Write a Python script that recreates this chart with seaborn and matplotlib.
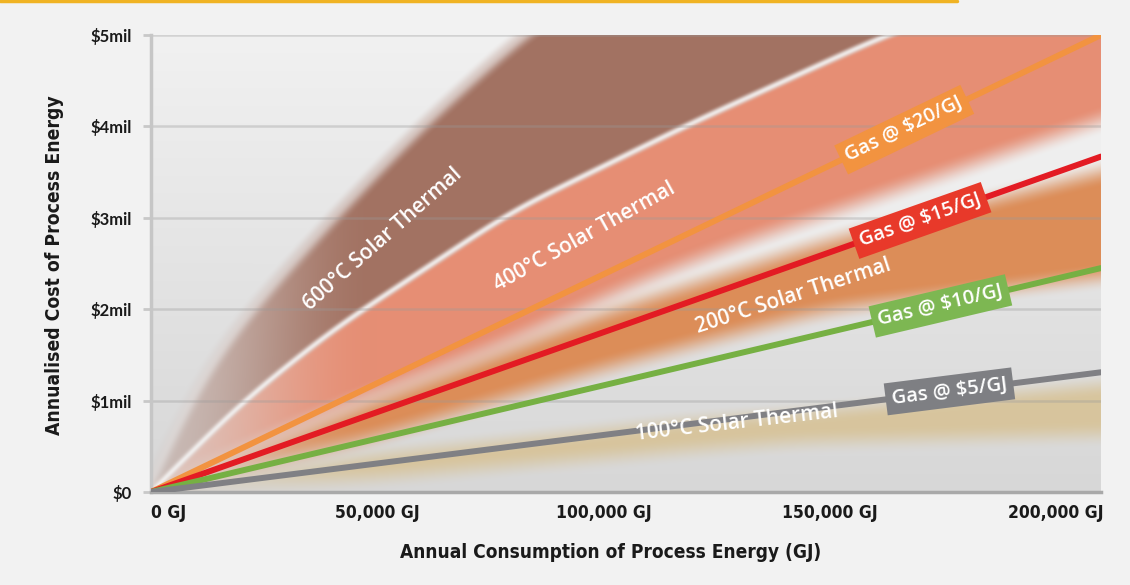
import os
import numpy as np
import pandas as pd
import matplotlib
matplotlib.use("Agg")
import matplotlib.pyplot as plt
import seaborn as sns
from matplotlib import font_manager as fm
from matplotlib.colors import to_rgb
from matplotlib.lines import Line2D

# ---- data -------------------------------------------------------------
x_max_gj = 210000
y_max_mil = 5

x_ticks = [0, 50000, 100000, 150000, 200000]
x_tick_labels = ["0 GJ", "50,000 GJ", "100,000 GJ", "150,000 GJ", "200,000 GJ"]
y_ticks = [0, 1, 2, 3, 4, 5]
y_tick_labels = ["$0", "$1mil", "$2mil", "$3mil", "$4mil", "$5mil"]

# Gas cost lines ($mil) at the two ends of the consumption range
gas_names = ["Gas @ $20/GJ", "Gas @ $15/GJ", "Gas @ $10/GJ", "Gas @ $5/GJ"]
gas_consumption = [0, 210000]
gas_cost_20 = [0.0, 5.0]
gas_cost_15 = [0.0, 3.67]
gas_cost_10 = [0.0, 2.45]
gas_cost_5 = [0.0, 1.31]

# Solar thermal cost bands: lower and upper edge ($mil) vs consumption (GJ)
st100_x = [0, 50000, 121000, 143000, 210000]
st100_low = [0.0, 0.15, 0.46, 0.54, 0.62]
st100_high = [0.0, 0.40, 0.79, 0.86, 1.17]

st200_x = [0, 50000, 100000, 150000, 210000]
st200_low = [0.0, 0.60, 1.35, 2.00, 2.35]
st200_high = [0.0, 1.00, 1.95, 2.75, 3.50]

st400_x_low = [0, 40000, 77000, 108000, 130000, 158000, 210000]
st400_low = [0.0, 0.90, 1.60, 2.30, 2.72, 3.19, 4.07]
st400_x_high = [0, 20000, 40000, 80000, 120000, 160000, 210000]
st400_high = [0.0, 0.98, 1.77, 3.08, 4.05, 4.95, 5.90]

st600_x_low = st400_x_high
st600_low = st400_high
st600_x_high = [0, 10000, 20000, 40000, 60000, 82000, 120000, 210000]
st600_high = [0.10, 1.20, 1.88, 2.99, 4.02, 5.00, 6.30, 8.50]

band_names = ["100°C Solar Thermal", "200°C Solar Thermal",
              "400°C Solar Thermal", "600°C Solar Thermal"]

# ---- style ------------------------------------------------------------
gas_colors = ["#F29340", "#E31B23", "#76B043", "#808084"]
gas_box_colors = ["#F29340", "#E8392A", "#7DB752", "#7E7F83"]
gas_label_x = [166500, 170000, 174500, 176500]

band_colors = ["#D7C193", "#DC8D58", "#E68E74", "#A27262"]
band_label_pos = [(129500, 0.76), (141900, 2.14), (95900, 2.79), (51300, 2.76)]
band_label_rot = [6.5, 18, 29, 41.5]

sns.set_theme(style="white")
plt.rcParams["font.family"] = ["Lato", "DejaVu Sans"]
label_font = ["Open Sans", "Lato", "DejaVu Sans"]


def condensed_bold_file():
    prefs = ["LiberationSansNarrow-Bold.", "NotoSans-SemiCondensedBold.",
             "NotoSans-CondensedBold.", "DejaVuSansCondensed-Bold.",
             "RobotoCondensed-Bold."]
    files = [f.fname for f in fm.fontManager.ttflist]
    for p in prefs:
        for f in files:
            if os.path.basename(f).startswith(p):
                return f
    return None


_cond = condensed_bold_file()


def axis_font(size):
    if _cond:
        return fm.FontProperties(fname=_cond, size=size)
    return fm.FontProperties(family="Liberation Sans", weight="bold", size=size)


W_PX, H_PX = 1130, 585
fig = plt.figure(figsize=(W_PX / 100, H_PX / 100), dpi=100, facecolor="#F2F2F2")
renderer = fig.canvas.get_renderer()


def fit_size(text, target_px, base=15.0):
    t = fig.text(0, 0, text, fontproperties=axis_font(base))
    w = t.get_window_extent(renderer).width
    t.remove()
    return base * target_px / w


ax_l, ax_r, ax_t, ax_b = 151, 1101, 35, 492
ax = fig.add_axes([ax_l / W_PX, 1 - ax_b / H_PX, (ax_r - ax_l) / W_PX, (ax_b - ax_t) / H_PX])
ax.set_xlim(0, x_max_gj)
ax.set_ylim(0, y_max_mil)

# ---- soft solar bands rendered as a raster -----------------------------
nx, ny = ax_r - ax_l, ax_b - ax_t
xs = np.linspace(0, x_max_gj, nx)
ys = np.linspace(0, y_max_mil, ny)
Y = ys[:, None]
px_per_gj = nx / x_max_gj
px_per_mil = ny / y_max_mil


def soften(e, sigma=28):
    r = int(3 * sigma)
    left = 2 * e[0] - e[1:r + 1][::-1]
    right = 2 * e[-1] - e[-r - 1:-1][::-1]
    ext = np.concatenate([left, e, right])
    k = np.exp(-0.5 * (np.arange(-r, r + 1) / sigma) ** 2)
    return np.convolve(ext, k / k.sum(), mode="valid")


def edge(xp, yp):
    e = soften(np.interp(xs, xp, yp))
    slope = np.gradient(e, xs) * px_per_mil / px_per_gj
    return e, np.sqrt(1 + slope ** 2)


def smooth(t):
    t = np.clip(t, 0, 1)
    return t * t * (3 - 2 * t)


# bands fade in away from the origin
ramp = (0.3 + 0.7 * smooth(xs / 50000))[None, :]


def band_alpha(lo, hi, soft_lo, soft_hi):
    lo_e, lo_k = edge(*lo)
    hi_e, hi_k = edge(*hi)
    s_lo = soft_lo * lo_k / px_per_mil
    s_hi = soft_hi * hi_k / px_per_mil
    return (smooth((Y - lo_e[None]) / s_lo[None] + 0.5)
            * smooth((hi_e[None] - Y) / s_hi[None] + 0.5))


def streak(xp, yp, width_px):
    e, k = edge(xp, yp)
    d = (Y - e[None]) * px_per_mil / k[None]
    return np.exp(-(d / width_px) ** 2)


top_c = np.array(to_rgb("#F1F1F1"))
bot_c = np.array(to_rgb("#D7D7D7"))
frac = (ys / y_max_mil)[:, None, None]
img = np.broadcast_to(bot_c * (1 - frac) + top_c * frac, (ny, nx, 3)).copy()


def paint(alpha, color, strength=1.0):
    global img
    a = (alpha * strength)[..., None]
    img = img * (1 - a) + np.array(to_rgb(color)) * a


# pale gap between the 400 and 200 bands
paint(band_alpha((st200_x, st200_high), (st400_x_low, st400_low), 30, 30), "#F2F2F2", 0.6)
paint(band_alpha((st100_x, st100_low), (st100_x, st100_high), 28, 26) * ramp, band_colors[0], 0.85)
paint(band_alpha((st200_x, st200_low), (st200_x, st200_high), 30, 30) * ramp, band_colors[1])
paint(band_alpha((st400_x_low, st400_low), (st400_x_high, st400_high), 30, 12) * ramp, band_colors[2])
paint(band_alpha((st600_x_low, st600_low), (st600_x_high, st600_high), 12, 24) * ramp, band_colors[3])
paint(streak(st400_x_high, st400_high, 3.0), "#F4F4F4", 0.85)
paint(streak(st600_x_high, st600_high, 5.0), "#F4F4F4", 0.25)

ax.imshow(img, origin="lower", extent=[0, x_max_gj, 0, y_max_mil],
          aspect="auto", interpolation="bilinear", zorder=0)

# ---- gas lines --------------------------------------------------------
gas_costs = [gas_cost_20, gas_cost_15, gas_cost_10, gas_cost_5]
df = pd.DataFrame({
    "consumption": np.tile(gas_consumption, len(gas_names)),
    "cost": np.concatenate(gas_costs),
    "series": np.repeat(gas_names, len(gas_consumption)),
})
sns.lineplot(data=df, x="consumption", y="cost", hue="series",
             hue_order=gas_names, palette=dict(zip(gas_names, gas_colors)),
             linewidth=4.3, legend=False, ax=ax, zorder=3, sort=False)

ax.set_xlim(0, x_max_gj)
ax.set_ylim(0, y_max_mil)

for name, cost, box_c, lx in zip(gas_names, gas_costs, gas_box_colors, gas_label_x):
    ly = np.interp(lx, gas_consumption, cost)
    p0 = ax.transData.transform((gas_consumption[0], cost[0]))
    p1 = ax.transData.transform((gas_consumption[1], cost[1]))
    ang = np.degrees(np.arctan2(p1[1] - p0[1], p1[0] - p0[0]))
    ax.text(lx, ly, name, rotation=ang, rotation_mode="anchor", ha="center",
            va="center", color="white", fontsize=14.5, fontweight="semibold",
            family=label_font, zorder=5,
            bbox=dict(boxstyle="square,pad=0.3", fc=box_c, ec="none"))

for name, (bx, by), rot in zip(band_names, band_label_pos, band_label_rot):
    ax.text(bx, by, name, rotation=rot, rotation_mode="anchor", ha="center",
            va="center", color="white", fontsize=15, fontweight="semibold",
            family=label_font, zorder=4)

# ---- axes -------------------------------------------------------------
tick_size = fit_size("100,000 GJ", 95)
ax.set_xticks(x_ticks)
ax.set_xticklabels(x_tick_labels, fontproperties=axis_font(tick_size), color="#1A1A1A")
ax.get_xticklabels()[0].set_horizontalalignment("left")
ax.set_yticks(y_ticks)
ax.set_yticklabels(y_tick_labels, fontweight="bold", fontsize=12, color="#1A1A1A")
ax.tick_params(axis="x", length=0, pad=9)
ax.tick_params(axis="y", length=6, width=2, color="#C8C8C8", pad=8, left=True)
ax.set_xlabel("")
ax.set_ylabel("")

ax.grid(axis="y", color="#9A9A9A", alpha=0.35, linewidth=1.8)
ax.grid(axis="x", visible=False)
ax.set_axisbelow(True)
for side in ["top", "right"]:
    ax.spines[side].set_visible(False)
ax.spines["left"].set_color("#C6C6C6")
ax.spines["left"].set_linewidth(2.5)
ax.spines["bottom"].set_color("#A9A9A9")
ax.spines["bottom"].set_linewidth(2.5)

xt = "Annual Consumption of Process Energy (GJ)"
yt = "Annualised Cost of Process Energy"
fig.text(611 / W_PX, 1 - 552 / H_PX, xt, ha="center", va="center",
         fontproperties=axis_font(fit_size(xt, 422)), color="#1A1A1A")
fig.text(55 / W_PX, 1 - 265 / H_PX, yt, ha="center", va="center", rotation=90,
         fontproperties=axis_font(fit_size(yt, 340)), color="#1A1A1A")

fig.add_artist(Line2D([0, 957 / W_PX], [1 - 1.2 / H_PX] * 2, color="#F0B323",
                      linewidth=2.5, transform=fig.transFigure))

fig.savefig("out.png", dpi=100, facecolor=fig.get_facecolor())
